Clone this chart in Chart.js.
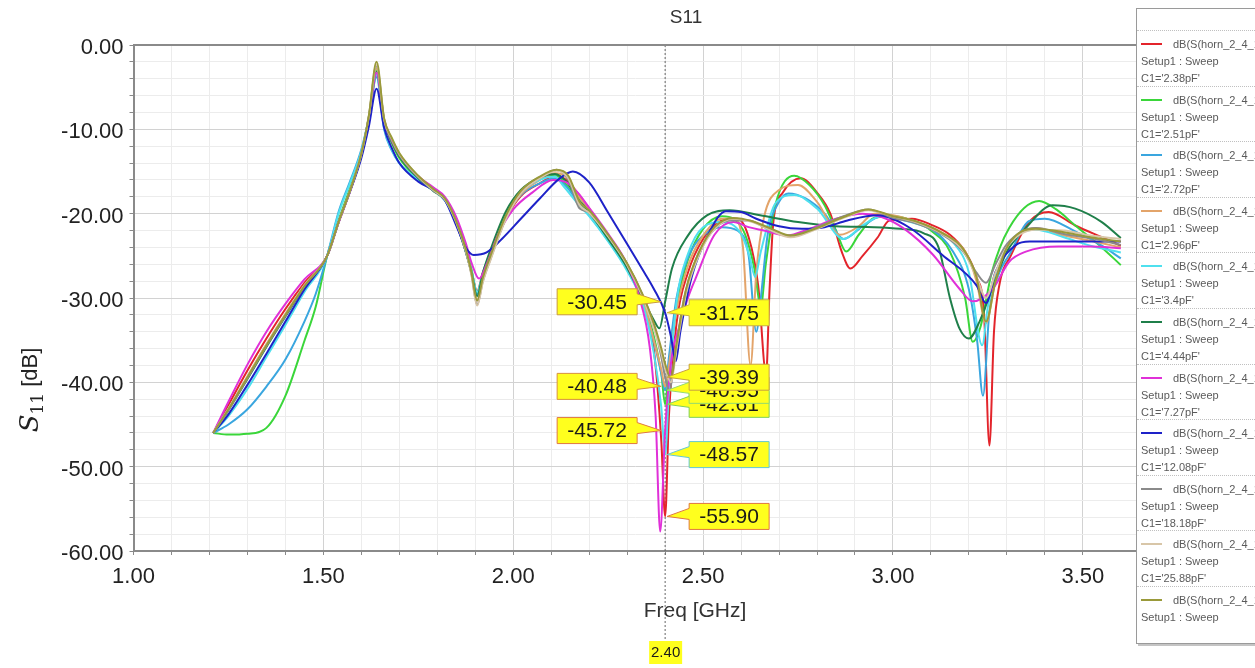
<!DOCTYPE html>
<html>
<head>
<meta charset="utf-8">
<title>S11</title>
<script src="https://cdn.jsdelivr.net/npm/chart.js@4.4.1/dist/chart.umd.min.js"></script>
<style>
  html, body { margin: 0; padding: 0; background: #fff; overflow: hidden; }
  #wrap { position: relative; width: 1255px; height: 668px; }
  #legend {
    position: absolute; left: 1136px; top: 8px; width: 170px; height: 634px;
    background: #fff; border: 1px solid #9a9a9a; box-shadow: 2px 2px 0 #c4c4c4;
    font-family: "Liberation Sans", Arial, sans-serif; font-size: 11px; color: #5a5a5a;
  }
  .entry { position: absolute; left: 0; width: 100%; height: 56px; border-top: 1px dotted #c0c0c0; }
  .entry .swatch { position: absolute; left: 4px; top: 12px; width: 21px; height: 2px; }
  .entry .t { position: absolute; white-space: nowrap; line-height: 12px; }
</style>
</head>
<body>
<div id="wrap">
  <canvas id="s11" width="1255" height="668"></canvas>
  <div id="legend"></div>
</div>
<script>
// frequency [GHz], S11 [dB] pairs, one array per C1 value
const red = [[1.21,-46.0],[1.25,-42.7],[1.30,-38.6],[1.35,-34.8],[1.40,-31.3],[1.45,-28.2],[1.51,-25.0],[1.54,-21.0],[1.57,-17.3],[1.60,-13.0],[1.62,-8.8],[1.64,-3.5],[1.66,-9.0],[1.68,-11.2],[1.70,-13.0],[1.75,-15.6],[1.79,-17.0],[1.82,-18.3],[1.85,-21.2],[1.875,-24.5],[1.89,-26.8],[1.905,-29.2],[1.92,-27.0],[1.94,-24.8],[1.98,-20.6],[2.02,-17.9],[2.07,-16.4],[2.11,-15.5],[2.14,-16.0],[2.17,-17.6],[2.20,-19.4],[2.25,-22.6],[2.30,-26.0],[2.34,-30.0],[2.37,-36.0],[2.39,-47.0],[2.40,-55.9],[2.41,-44.0],[2.43,-33.0],[2.46,-27.0],[2.50,-23.0],[2.55,-20.8],[2.59,-20.6],[2.62,-22.8],[2.645,-28.5],[2.666,-39.0],[2.675,-29.0],[2.685,-21.0],[2.71,-17.5],[2.757,-15.8],[2.80,-17.5],[2.835,-20.0],[2.865,-24.5],[2.888,-26.5],[2.92,-25.0],[2.96,-22.8],[2.99,-20.8],[3.05,-20.6],[3.10,-21.3],[3.15,-22.5],[3.19,-24.5],[3.22,-27.5],[3.24,-32.0],[3.254,-47.5],[3.266,-34.0],[3.28,-28.5],[3.31,-25.0],[3.36,-20.9],[3.41,-19.8],[3.48,-21.4],[3.55,-22.8],[3.60,-23.8]];
const green = [[1.21,-46.0],[1.25,-46.2],[1.30,-46.1],[1.35,-45.4],[1.40,-41.6],[1.45,-35.1],[1.48,-31.0],[1.51,-25.0],[1.54,-20.8],[1.57,-17.0],[1.60,-12.8],[1.62,-8.6],[1.64,-3.0],[1.66,-9.2],[1.68,-11.6],[1.70,-13.4],[1.75,-15.9],[1.79,-17.3],[1.82,-18.4],[1.85,-21.0],[1.875,-24.2],[1.89,-26.6],[1.905,-29.5],[1.92,-27.2],[1.94,-24.8],[1.98,-20.2],[2.02,-17.4],[2.07,-15.9],[2.11,-15.4],[2.14,-16.6],[2.17,-18.4],[2.20,-20.0],[2.25,-23.0],[2.30,-26.4],[2.34,-30.0],[2.37,-34.5],[2.39,-39.0],[2.40,-42.6],[2.41,-38.5],[2.43,-31.0],[2.46,-25.5],[2.50,-21.8],[2.55,-20.3],[2.58,-20.6],[2.61,-22.4],[2.635,-26.5],[2.652,-31.0],[2.665,-26.0],[2.69,-19.0],[2.74,-15.5],[2.78,-16.6],[2.82,-19.0],[2.85,-22.0],[2.877,-24.5],[2.91,-22.5],[2.95,-20.5],[3.00,-20.3],[3.05,-20.8],[3.10,-22.0],[3.15,-24.5],[3.19,-30.0],[3.21,-35.2],[3.23,-33.5],[3.26,-27.0],[3.306,-21.7],[3.385,-18.5],[3.43,-19.5],[3.48,-21.4],[3.55,-24.0],[3.60,-26.1]];
const skyBlue = [[1.21,-46.0],[1.25,-45.0],[1.30,-43.2],[1.35,-40.5],[1.40,-37.3],[1.45,-32.8],[1.48,-29.5],[1.51,-25.0],[1.54,-19.8],[1.57,-16.2],[1.60,-12.4],[1.62,-8.6],[1.64,-3.8],[1.66,-10.0],[1.68,-12.5],[1.70,-14.0],[1.75,-16.0],[1.79,-17.2],[1.82,-18.4],[1.85,-21.2],[1.875,-24.5],[1.89,-27.0],[1.905,-29.6],[1.92,-27.3],[1.94,-24.6],[1.98,-20.4],[2.02,-17.8],[2.07,-16.4],[2.11,-15.8],[2.14,-16.8],[2.17,-18.6],[2.20,-20.2],[2.25,-23.2],[2.30,-26.6],[2.34,-30.4],[2.37,-35.0],[2.39,-39.0],[2.40,-40.95],[2.41,-37.0],[2.43,-30.0],[2.46,-25.2],[2.50,-22.6],[2.55,-21.6],[2.59,-22.0],[2.62,-25.0],[2.64,-34.0],[2.652,-30.0],[2.67,-22.5],[2.70,-18.6],[2.725,-17.6],[2.77,-18.2],[2.82,-20.0],[2.87,-23.0],[2.92,-21.5],[2.97,-20.3],[3.03,-20.6],[3.10,-21.8],[3.158,-24.5],[3.20,-29.0],[3.222,-35.2],[3.237,-41.6],[3.254,-31.6],[3.28,-27.0],[3.306,-24.9],[3.358,-20.9],[3.40,-20.6],[3.48,-22.1],[3.55,-23.8],[3.60,-25.3]];
const orange = [[1.21,-46.0],[1.25,-43.2],[1.30,-39.3],[1.35,-35.5],[1.40,-31.9],[1.45,-28.5],[1.51,-25.0],[1.54,-21.0],[1.57,-17.3],[1.60,-13.0],[1.62,-8.5],[1.64,-2.8],[1.66,-8.8],[1.68,-11.2],[1.70,-13.0],[1.75,-15.7],[1.79,-17.2],[1.82,-18.3],[1.85,-21.0],[1.875,-24.3],[1.89,-27.0],[1.905,-30.3],[1.92,-27.8],[1.94,-25.2],[1.98,-20.6],[2.02,-17.7],[2.07,-16.0],[2.11,-15.2],[2.14,-15.6],[2.17,-17.8],[2.20,-19.5],[2.25,-22.7],[2.30,-26.2],[2.34,-30.0],[2.37,-35.0],[2.39,-38.5],[2.40,-40.48],[2.41,-38.0],[2.43,-31.5],[2.46,-26.2],[2.50,-22.6],[2.55,-20.6],[2.585,-20.6],[2.605,-24.0],[2.625,-38.0],[2.64,-27.0],[2.66,-20.5],[2.70,-17.2],[2.75,-16.6],[2.80,-18.6],[2.86,-22.5],[2.91,-21.5],[2.95,-20.0],[3.00,-20.2],[3.05,-20.8],[3.10,-21.6],[3.15,-22.8],[3.19,-24.5],[3.22,-28.0],[3.245,-33.0],[3.27,-28.0],[3.31,-23.5],[3.376,-21.7],[3.45,-22.6],[3.52,-23.2],[3.60,-24.0]];
const cyan = [[1.21,-46.0],[1.25,-44.0],[1.30,-40.8],[1.35,-37.0],[1.40,-33.2],[1.45,-29.3],[1.51,-25.0],[1.54,-20.0],[1.57,-16.4],[1.60,-12.6],[1.62,-8.6],[1.64,-3.5],[1.66,-9.8],[1.68,-12.4],[1.70,-14.0],[1.75,-16.0],[1.79,-17.3],[1.82,-18.4],[1.85,-21.2],[1.875,-24.4],[1.89,-26.8],[1.905,-29.3],[1.92,-27.0],[1.94,-24.5],[1.98,-20.2],[2.02,-17.5],[2.07,-16.0],[2.11,-15.6],[2.13,-16.6],[2.17,-18.8],[2.20,-20.3],[2.25,-23.3],[2.30,-26.8],[2.34,-30.6],[2.37,-36.5],[2.39,-43.0],[2.40,-48.57],[2.41,-41.0],[2.43,-30.5],[2.46,-24.8],[2.50,-21.6],[2.55,-21.0],[2.60,-22.4],[2.622,-25.0],[2.637,-27.5],[2.652,-24.5],[2.69,-18.8],[2.74,-17.8],[2.80,-19.4],[2.87,-23.0],[2.92,-21.4],[2.97,-20.3],[3.03,-20.8],[3.10,-21.8],[3.16,-23.5],[3.20,-27.0],[3.235,-35.6],[3.25,-31.0],[3.28,-26.0],[3.33,-22.4],[3.376,-21.9],[3.45,-22.8],[3.52,-23.8],[3.60,-24.6]];
const darkGreen = [[1.21,-46.0],[1.25,-43.3],[1.30,-39.6],[1.35,-35.8],[1.40,-32.2],[1.45,-28.7],[1.51,-25.0],[1.54,-21.0],[1.57,-17.3],[1.60,-13.0],[1.62,-8.6],[1.64,-3.2],[1.66,-9.0],[1.68,-11.4],[1.70,-13.2],[1.75,-15.8],[1.79,-17.3],[1.82,-18.3],[1.85,-21.0],[1.875,-24.5],[1.89,-27.0],[1.905,-29.8],[1.92,-27.0],[1.94,-24.3],[1.98,-19.8],[2.02,-17.2],[2.07,-15.7],[2.11,-15.3],[2.14,-16.2],[2.17,-18.2],[2.20,-19.8],[2.25,-23.0],[2.30,-26.4],[2.34,-30.0],[2.37,-32.6],[2.385,-33.6],[2.40,-30.45],[2.418,-26.5],[2.46,-22.6],[2.51,-20.2],[2.57,-19.6],[2.65,-20.2],[2.75,-21.0],[2.85,-21.5],[2.95,-21.6],[3.02,-21.8],[3.08,-22.3],[3.12,-24.0],[3.15,-30.0],[3.175,-33.6],[3.20,-34.8],[3.228,-32.8],[3.26,-29.0],[3.30,-24.5],[3.35,-21.7],[3.42,-19.0],[3.48,-19.4],[3.55,-21.0],[3.60,-22.9]];
const magenta = [[1.21,-46.0],[1.25,-42.3],[1.30,-37.9],[1.35,-34.0],[1.40,-30.7],[1.45,-27.8],[1.51,-25.0],[1.54,-21.1],[1.57,-17.4],[1.60,-13.1],[1.62,-8.7],[1.64,-3.3],[1.66,-9.0],[1.68,-11.3],[1.70,-13.0],[1.75,-15.6],[1.79,-16.9],[1.82,-18.0],[1.85,-20.4],[1.875,-23.5],[1.89,-25.8],[1.91,-27.7],[1.93,-26.0],[1.96,-22.5],[2.00,-19.5],[2.05,-17.5],[2.105,-16.0],[2.14,-16.3],[2.17,-17.5],[2.20,-19.3],[2.25,-22.4],[2.30,-26.0],[2.33,-29.6],[2.36,-36.0],[2.375,-44.0],[2.387,-57.7],[2.40,-45.72],[2.418,-36.8],[2.436,-33.6],[2.46,-30.0],[2.48,-27.7],[2.53,-22.5],[2.58,-21.0],[2.62,-21.6],[2.66,-22.0],[2.72,-22.6],[2.78,-21.8],[2.85,-20.6],[2.92,-20.0],[2.97,-20.4],[3.03,-21.8],[3.106,-24.9],[3.175,-28.9],[3.21,-30.4],[3.263,-28.9],[3.306,-25.7],[3.35,-24.5],[3.436,-23.9],[3.52,-23.9],[3.60,-24.1]];
const blue = [[1.21,-46.0],[1.25,-43.8],[1.30,-40.3],[1.35,-36.6],[1.40,-32.8],[1.45,-29.0],[1.51,-25.0],[1.54,-21.0],[1.57,-17.4],[1.60,-13.4],[1.62,-9.6],[1.64,-5.2],[1.66,-9.8],[1.68,-12.2],[1.70,-14.0],[1.75,-16.2],[1.79,-17.2],[1.82,-18.4],[1.85,-21.4],[1.875,-24.0],[1.896,-24.9],[1.93,-24.6],[1.97,-23.0],[2.02,-20.6],[2.07,-18.2],[2.12,-15.9],[2.157,-15.0],[2.20,-16.3],[2.25,-19.9],[2.30,-23.6],[2.34,-26.6],[2.37,-28.9],[2.40,-31.75],[2.415,-34.5],[2.428,-37.5],[2.44,-34.0],[2.47,-27.5],[2.51,-22.8],[2.56,-19.7],[2.60,-19.8],[2.64,-20.6],[2.70,-21.5],[2.76,-21.8],[2.82,-21.6],[2.88,-20.8],[2.96,-20.2],[3.045,-21.7],[3.13,-24.9],[3.22,-28.5],[3.245,-30.6],[3.27,-26.9],[3.324,-23.7],[3.36,-23.3],[3.45,-23.3],[3.60,-23.3]];
const grey = [[1.21,-46.0],[1.25,-43.3],[1.30,-39.5],[1.35,-35.7],[1.40,-32.1],[1.45,-28.6],[1.51,-25.0],[1.54,-21.0],[1.57,-17.3],[1.60,-12.9],[1.62,-8.4],[1.64,-2.5],[1.66,-8.9],[1.68,-11.2],[1.70,-13.0],[1.75,-15.7],[1.79,-17.3],[1.82,-18.3],[1.85,-21.0],[1.875,-24.3],[1.89,-27.2],[1.905,-30.8],[1.92,-28.0],[1.94,-25.4],[1.98,-20.6],[2.02,-17.6],[2.07,-15.8],[2.114,-14.8],[2.145,-16.0],[2.175,-19.4],[2.20,-19.8],[2.25,-22.6],[2.30,-26.0],[2.34,-29.6],[2.37,-33.2],[2.39,-37.0],[2.40,-39.39],[2.412,-41.0],[2.425,-37.0],[2.45,-30.0],[2.48,-25.5],[2.52,-22.3],[2.57,-20.8],[2.62,-20.8],[2.67,-21.8],[2.73,-22.6],[2.80,-21.6],[2.87,-20.3],[2.935,-19.5],[3.00,-20.5],[3.05,-21.0],[3.13,-22.5],[3.185,-24.5],[3.22,-27.0],[3.245,-28.2],[3.27,-26.0],[3.30,-23.6],[3.376,-21.7],[3.45,-22.4],[3.52,-22.9],[3.60,-23.7]];
const beige = [[1.21,-46.0],[1.25,-43.1],[1.30,-39.3],[1.35,-35.5],[1.40,-31.9],[1.45,-28.5],[1.51,-25.0],[1.54,-21.0],[1.57,-17.3],[1.60,-12.9],[1.62,-8.4],[1.64,-2.3],[1.66,-8.8],[1.68,-11.1],[1.70,-12.9],[1.75,-15.6],[1.79,-17.2],[1.82,-18.3],[1.85,-21.0],[1.875,-24.4],[1.89,-27.3],[1.905,-30.9],[1.92,-28.1],[1.94,-25.5],[1.98,-20.7],[2.02,-17.6],[2.07,-15.8],[2.114,-14.9],[2.145,-15.8],[2.175,-19.0],[2.20,-19.9],[2.25,-22.7],[2.30,-26.1],[2.34,-29.8],[2.37,-33.6],[2.39,-36.5],[2.40,-38.3],[2.415,-40.0],[2.43,-36.0],[2.455,-29.5],[2.49,-24.8],[2.53,-21.8],[2.58,-20.6],[2.63,-21.0],[2.68,-22.0],[2.73,-22.8],[2.80,-21.8],[2.87,-20.5],[2.935,-19.6],[3.00,-20.3],[3.06,-21.0],[3.13,-22.4],[3.185,-24.4],[3.22,-27.5],[3.245,-30.0],[3.27,-27.0],[3.30,-24.0],[3.376,-21.9],[3.45,-22.0],[3.52,-22.6],[3.60,-23.0]];
const olive = [[1.21,-46.0],[1.25,-43.2],[1.30,-39.4],[1.35,-35.6],[1.40,-32.0],[1.45,-28.6],[1.51,-25.0],[1.54,-21.0],[1.57,-17.3],[1.60,-12.9],[1.62,-8.3],[1.64,-2.0],[1.66,-8.7],[1.68,-11.0],[1.70,-12.8],[1.75,-15.5],[1.79,-17.1],[1.82,-18.2],[1.85,-20.9],[1.875,-24.2],[1.89,-27.0],[1.905,-30.3],[1.92,-27.6],[1.94,-25.0],[1.98,-20.3],[2.02,-17.3],[2.07,-15.6],[2.114,-14.8],[2.145,-15.5],[2.175,-18.6],[2.20,-19.6],[2.25,-22.5],[2.30,-25.9],[2.34,-29.5],[2.37,-33.0],[2.39,-36.0],[2.40,-37.8],[2.415,-39.5],[2.43,-35.5],[2.455,-29.0],[2.49,-24.5],[2.53,-21.6],[2.58,-20.5],[2.63,-20.9],[2.68,-21.8],[2.73,-22.6],[2.80,-21.7],[2.87,-20.4],[2.935,-19.5],[3.00,-20.3],[3.06,-20.9],[3.13,-22.3],[3.185,-24.2],[3.22,-27.5],[3.245,-32.8],[3.27,-28.0],[3.30,-24.0],[3.376,-21.8],[3.45,-22.2],[3.52,-22.8],[3.60,-23.3]];

const seriesData = [red, green, skyBlue, orange, cyan, darkGreen, magenta, blue, grey, beige, olive];
const capValues = ["2.38pF", "2.51pF", "2.72pF", "2.96pF", "3.4pF", "4.44pF", "7.27pF", "12.08pF", "18.18pF", "25.88pF", ""];
const seriesColors = ["#e3242b", "#3ad63a", "#3aa6df", "#e3a46a", "#4fe0ee", "#1f7f4a", "#e030d8", "#1e22c8", "#8a8a8a", "#d8c6a8", "#9a9a3a"];

// marker at 2.40 GHz and the values it shows
const markerFreq = 2.40;
const markerValues = [-30.45, -31.75, -42.61, -40.95, -39.39, -40.48, -45.72, -48.57, -55.90];
const markerSides = ["L", "R", "R", "R", "R", "L", "L", "R", "R"];
const markerEdges = ["#c99a3c", "#c9b040", "#7fd05a", "#93da70", "#c9a040", "#d8913c", "#e07840", "#62c7d6", "#e07840"];

const FONT = '"Liberation Sans", Arial, sans-serif';

const decor = {
  id: 'decor',
  beforeDatasetsDraw(chart) {
    const { ctx, chartArea, scales } = chart;
    const mx = scales.x.getPixelForValue(markerFreq);
    ctx.save();
    ctx.strokeStyle = '#666';
    ctx.lineWidth = 1;
    ctx.setLineDash([2, 2]);
    ctx.beginPath();
    ctx.moveTo(mx, chartArea.top);
    ctx.lineTo(mx, 641);
    ctx.stroke();
    ctx.restore();
  },
  afterDatasetsDraw(chart) {
    const { ctx, chartArea, scales } = chart;
    const mx = scales.x.getPixelForValue(markerFreq);
    ctx.save();
    // frame top edge
    ctx.strokeStyle = '#8a8a8a';
    ctx.lineWidth = 2;
    ctx.beginPath();
    ctx.moveTo(chartArea.left, chartArea.top);
    ctx.lineTo(chartArea.right, chartArea.top);
    ctx.stroke();

    // marker value boxes
    ctx.font = '21px ' + FONT;
    ctx.textAlign = 'center';
    ctx.textBaseline = 'middle';
    markerValues.forEach((v, i) => {
      const cy = scales.y.getPixelForValue(v);
      const h = 26, w = 80;
      let bx, tip, edge;
      if (markerSides[i] === 'L') { bx = mx - 108; edge = bx + w; tip = mx - 4; }
      else { bx = mx + 24; edge = bx; tip = mx + 2; }
      const top = cy - h / 2;
      ctx.beginPath();
      if (markerSides[i] === 'L') {
        ctx.moveTo(bx, top); ctx.lineTo(edge, top); ctx.lineTo(edge, cy - 8);
        ctx.lineTo(tip, cy); ctx.lineTo(edge, cy + 3); ctx.lineTo(edge, top + h); ctx.lineTo(bx, top + h);
      } else {
        ctx.moveTo(edge + w, top); ctx.lineTo(edge, top); ctx.lineTo(edge, cy - 8);
        ctx.lineTo(tip, cy); ctx.lineTo(edge, cy + 3); ctx.lineTo(edge, top + h); ctx.lineTo(edge + w, top + h);
      }
      ctx.closePath();
      ctx.fillStyle = '#ffff1e';
      ctx.fill();
      ctx.lineWidth = 1;
      ctx.setLineDash([]);
      ctx.strokeStyle = markerEdges[i];
      ctx.stroke();
      ctx.fillStyle = '#1a1a1a';
      ctx.fillText(v.toFixed(2), bx + w / 2, cy + 1);
    });

    // marker frequency tag under the axis
    ctx.fillStyle = '#ffff1e';
    ctx.fillRect(mx - 16, 641, 33, 23);
    ctx.fillStyle = '#1a1a1a';
    ctx.font = '15px ' + FONT;
    ctx.fillText(markerFreq.toFixed(2), mx + 0.5, 653);

    // titles
    ctx.fillStyle = '#333';
    ctx.font = '19px ' + FONT;
    ctx.fillText('S11', 686, 18);
    ctx.font = '21px ' + FONT;
    ctx.fillText('Freq [GHz]', 695, 611);

    // y title: S11 [dB] with S in math italic and 11 as subscript
    ctx.translate(31, 390);
    ctx.rotate(-Math.PI / 2);
    ctx.textAlign = 'left';
    const fS = 'italic 26px "DejaVu Serif", "Liberation Serif", serif';
    const fSub = '17px "DejaVu Serif", "Liberation Serif", serif';
    const fRest = '22px ' + FONT;
    ctx.font = fS; const wS = ctx.measureText('S').width;
    ctx.font = fSub; const wSub = ctx.measureText('11').width;
    ctx.font = fRest; const wR = ctx.measureText(' [dB]').width;
    let x0 = -(wS + wSub + wR) / 2;
    ctx.fillStyle = '#222';
    ctx.font = fS; ctx.fillText('S', x0, 0); x0 += wS;
    ctx.font = fSub; ctx.fillText('11', x0, 8); x0 += wSub;
    ctx.font = fRest; ctx.fillText(' [dB]', x0, 0);
    ctx.restore();
  }
};

const datasets = seriesData.map((pts, i) => ({
  label: capValues[i] ? "C1='" + capValues[i] + "'" : 'C1',
  data: pts.map(p => ({ x: p[0], y: p[1] })),
  borderColor: seriesColors[i],
  borderWidth: 2,
  pointRadius: 0,
  fill: false,
  cubicInterpolationMode: 'monotone',
  order: seriesData.length - 1 - i
}));

const isMultiple = (v, step) => Math.abs(v / step - Math.round(v / step)) < 1e-6;

new Chart(document.getElementById('s11'), {
  type: 'line',
  data: { datasets },
  plugins: [decor],
  options: {
    responsive: false,
    animation: false,
    devicePixelRatio: 1,
    layout: { padding: { top: 45, right: 119, bottom: 0, left: 0 } },
    plugins: { legend: { display: false }, title: { display: false }, tooltip: { enabled: false } },
    scales: {
      x: {
        type: 'linear', min: 1.0, max: 3.64,
        afterFit: s => { s.height = 117; },
        border: { display: true, color: '#8a8a8a', width: 2 },
        grid: {
          color: c => isMultiple(c.tick.value, 0.5) ? '#d2d2d2' : '#ececec',
          tickColor: '#8a8a8a', tickLength: 4
        },
        ticks: {
          stepSize: 0.1, autoSkip: false, maxRotation: 0, minRotation: 0, padding: 9,
          color: '#222', font: { size: 22, family: FONT },
          callback: v => isMultiple(v, 0.5) ? v.toFixed(2) : ''
        }
      },
      y: {
        min: -60, max: 0,
        afterFit: s => { s.width = 133.5; },
        border: { display: true, color: '#8a8a8a', width: 2 },
        grid: {
          color: c => isMultiple(c.tick.value, 10) ? '#d2d2d2' : '#ececec',
          tickColor: '#8a8a8a', tickLength: 4
        },
        ticks: {
          stepSize: 2, autoSkip: false, padding: 6, labelOffset: 3,
          color: '#222', font: { size: 22, family: FONT },
          callback: v => isMultiple(v, 10) ? v.toFixed(2) : ''
        }
      }
    }
  }
});

// legend panel at the right, cut by the window edge like the original
const legend = document.getElementById('legend');
seriesData.forEach((_, i) => {
  const e = document.createElement('div');
  e.className = 'entry';
  e.style.top = (21 + 55.6 * i) + 'px';
  let html = '<div class="swatch" style="background:' + seriesColors[i] + '"></div>' +
    '<div class="t" style="left:36px;top:7px">dB(S(horn_2_4_1,horn_2_4_1))</div>' +
    '<div class="t" style="left:4px;top:24px">Setup1 : Sweep</div>';
  if (capValues[i]) html += '<div class="t" style="left:4px;top:41px">C1=\'' + capValues[i] + '\'</div>';
  e.innerHTML = html;
  legend.appendChild(e);
});
</script>
</body>
</html>
